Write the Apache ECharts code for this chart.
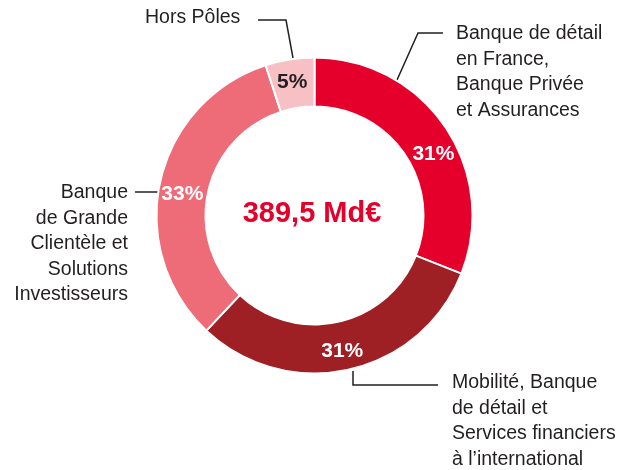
<!DOCTYPE html>
<html>
<head>
<meta charset="utf-8">
<script src="https://cdn.jsdelivr.net/npm/echarts@6/dist/echarts.min.js"></script>
<style>
  html, body { margin: 0; padding: 0; background: #fff; }
  #chart { width: 624px; height: 470px; }
</style>
</head>
<body>
<div id="chart"></div>
<script>
// segments, clockwise from 12 o'clock
const categories = [
  'Banque de détail\nen France,\nBanque Privée\net Assurances',
  'Mobilité, Banque\nde détail et\nServices financiers\nà l\u2019international',
  'Banque\nde Grande\nClientèle et\nSolutions\nInvestisseurs',
  'Hors Pôles'
]
const shares = [31, 31, 33, 5]
const colors = ['#e4002b', '#9e1f24', '#ee6b78', '#f6c0c4']
const pctColors = ['#fff', '#fff', '#fff', '#231f20']
const total = '389,5 Md€'

const font = "'Liberation Sans', Arial, sans-serif"

// nudges for the percentage labels
const pctOffset = [[6, 15], [-2, 2], [1, 8], [-1, 2]]

// outer label placement (x, y, align) and leader lines
const outer = [
  { x: 456, y: 72, align: 'left', line: [[397, 80], [418, 33], [443, 33]] },
  { x: 452, y: 421, align: 'left', line: [[353, 371], [353, 385], [438, 385]] },
  { x: 128, y: 244, align: 'right', line: [[158, 192], [135, 192]] },
  { x: 145, y: 18, align: 'left', line: [[293, 58], [286, 20], [258, 20]] }
]

const chart = echarts.init(document.getElementById('chart'))

const innerData = shares.map((v, i) => ({
  name: categories[i],
  value: v,
  itemStyle: { color: colors[i] },
  label: { color: pctColors[i], offset: pctOffset[i] }
}))

const outerData = shares.map((v, i) => ({ name: categories[i], value: v }))

chart.setOption({
  animation: false,
  graphic: [{
    type: 'text',
    left: 'center',
    x: 3,
    top: 199,
    style: {
      text: total,
      fill: '#e4002b',
      font: 'bold 29px ' + font
    }
  }],
  series: [
    {
      type: 'pie',
      center: [314.5, 215.5],
      radius: [109, 158],
      startAngle: 90,
      silent: true,
      itemStyle: { borderColor: '#fff', borderWidth: 2 },
      label: {
        position: 'inside',
        formatter: p => p.value + '%',
        fontFamily: font,
        fontWeight: 'bold',
        fontSize: 21
      },
      labelLine: { show: false },
      data: innerData
    },
    {
      type: 'pie',
      center: [314.5, 215.5],
      radius: [109, 158],
      startAngle: 90,
      silent: true,
      itemStyle: { color: 'rgba(0,0,0,0)' },
      label: {
        position: 'outside',
        formatter: '{b}',
        overflow: 'none',
        width: 300,
        fontFamily: font,
        fontSize: 19.5,
        lineHeight: 25.5,
        color: '#231f20'
      },
      labelLine: {
        show: true,
        lineStyle: { color: '#231f20', width: 1.5 }
      },
      labelLayout: p => {
        const o = outer[p.dataIndex]
        return {
          x: o.x,
          y: o.y,
          align: o.align,
          verticalAlign: 'middle',
          labelLinePoints: o.line
        }
      },
      data: outerData
    }
  ]
})
</script>
</body>
</html>
